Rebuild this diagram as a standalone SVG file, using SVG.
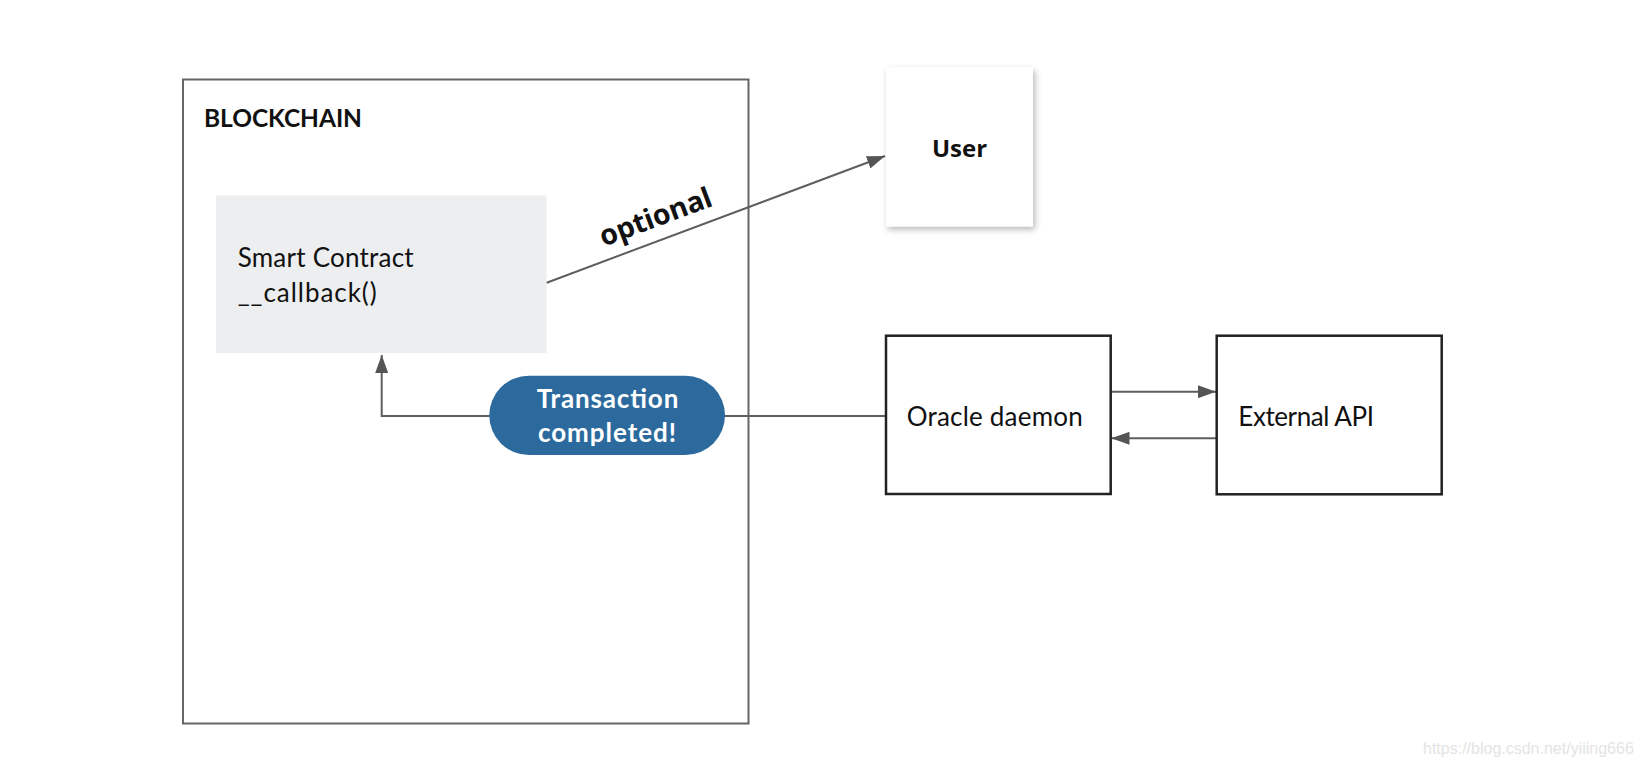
<svg xmlns="http://www.w3.org/2000/svg" width="1642" height="766" viewBox="0 0 1642 766">
  <style>
    .txt { font-family: "Lato", "Noto Sans", "Liberation Sans", sans-serif; fill: #111; }
    .bold { font-weight: 700; }
    .os { font-family: "Open Sans", "Noto Sans", "Liberation Sans", sans-serif; font-weight: 700; fill: #111; }
    .white { fill: #ffffff; }
    .conn { stroke: #5e5e5e; stroke-width: 2; fill: none; }
    .box { fill: #ffffff; stroke: #222; stroke-width: 2.5; }
  </style>
  <defs>
    <marker id="arrow" markerUnits="userSpaceOnUse" markerWidth="18" markerHeight="13" refX="18" refY="6.5" orient="auto">
      <path d="M0,0 L18,6.5 L0,13 z" fill="#555"/>
    </marker>
    <filter id="shadow" x="-20%" y="-20%" width="140%" height="140%">
      <feDropShadow dx="2" dy="3" stdDeviation="3" flood-color="#000" flood-opacity="0.28"/>
    </filter>
  </defs>
  <rect width="1642" height="766" fill="#ffffff"/>

  <g id="blockchain">
    <rect x="183" y="79.5" width="565.5" height="644" fill="#ffffff" stroke="#666" stroke-width="2"/>
    <text class="txt bold" x="204" y="126.7" font-size="24.5" textLength="158">BLOCKCHAIN</text>
  </g>

  <g id="smart-contract">
    <rect x="216" y="195.5" width="330.5" height="157.5" fill="#edeeef"/>
    <text class="txt" x="237.7" y="267.3" font-size="26" textLength="176">Smart Contract</text>
    <text class="txt" x="237.7" y="301.5" font-size="26" textLength="139">__callback()</text>
  </g>

  <g id="connectors">
    <line class="conn" x1="546.7" y1="282.7" x2="885" y2="156" marker-end="url(#arrow)"/>
    <polyline class="conn" points="886,416 381.7,416 381.7,355" marker-end="url(#arrow)"/>
    <line class="conn" x1="1111" y1="391.7" x2="1216" y2="391.7" marker-end="url(#arrow)"/>
    <line class="conn" x1="1216" y1="438.3" x2="1111.5" y2="438.3" marker-end="url(#arrow)"/>
    <text class="os" font-size="28.5" text-anchor="middle" textLength="118" transform="translate(659 226) rotate(-20.5)">optional</text>
  </g>

  <g id="user">
    <rect x="886" y="67.5" width="147" height="159" fill="#ffffff" filter="url(#shadow)"/>
    <text class="os" x="959.5" y="156.7" font-size="24" text-anchor="middle">User</text>
  </g>

  <g id="transaction-completed">
    <rect x="489.3" y="375.7" width="235.7" height="79.3" rx="39.6" ry="39.6" fill="#2c6a9e"/>
    <text class="txt bold white" x="607.5" y="408.3" font-size="26" text-anchor="middle" textLength="141.6">Transaction</text>
    <text class="txt bold white" x="607" y="441.7" font-size="26" text-anchor="middle" textLength="138">completed!</text>
  </g>

  <g id="oracle-daemon">
    <rect class="box" x="886" y="335.7" width="224.7" height="158.3"/>
    <text class="txt" x="906.7" y="426" font-size="26" textLength="176">Oracle daemon</text>
  </g>

  <g id="external-api">
    <rect class="box" x="1216.7" y="335.7" width="225" height="158.6"/>
    <text class="txt" x="1238.3" y="426" font-size="26" textLength="135.7">External API</text>
  </g>

  <text x="1423" y="754" font-family="Liberation Sans, Arial, sans-serif" font-size="16" fill="#e4e4e4">https://blog.csdn.net/yiiing666</text>
</svg>
